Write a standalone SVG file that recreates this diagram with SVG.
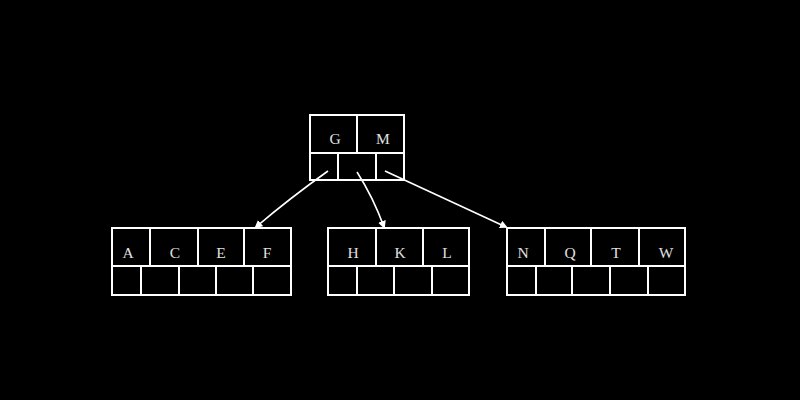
<svg xmlns="http://www.w3.org/2000/svg" width="800" height="400" viewBox="0 0 800 400">
<style>
.box{fill:none;stroke:#ffffff;stroke-width:2}
.ln{stroke:#ffffff;stroke-width:2}
.lbl{font-family:"Liberation Serif","DejaVu Serif",serif;font-size:15.5px;fill:#e0e0e0;text-anchor:middle}
.edge{fill:none;stroke:#ffffff;stroke-width:1.6;marker-end:url(#ah)}
</style>
<defs>
<marker id="ah" markerWidth="8" markerHeight="8" refX="6" refY="4" orient="auto" markerUnits="userSpaceOnUse">
<path d="M0,0 L8,4 L0,8 Z" fill="#ffffff"/>
</marker>
</defs>
<rect width="800" height="400" fill="#000000"/>
<g id="root">
<rect class="box" x="310" y="115" width="94" height="65"/>
<line class="ln" x1="310" y1="153" x2="404" y2="153"/>
<line class="ln" x1="357" y1="115" x2="357" y2="153"/>
<line class="ln" x1="338" y1="153" x2="338" y2="180"/>
<line class="ln" x1="376" y1="153" x2="376" y2="180"/>
<text class="lbl" x="335" y="144">G</text>
<text class="lbl" x="383" y="144">M</text>
</g>
<g id="left">
<rect class="box" x="112" y="228" width="179" height="67"/>
<line class="ln" x1="112" y1="266" x2="291" y2="266"/>
<line class="ln" x1="150" y1="228" x2="150" y2="266"/>
<line class="ln" x1="198" y1="228" x2="198" y2="266"/>
<line class="ln" x1="244" y1="228" x2="244" y2="266"/>
<line class="ln" x1="141" y1="266" x2="141" y2="295"/>
<line class="ln" x1="179" y1="266" x2="179" y2="295"/>
<line class="ln" x1="216" y1="266" x2="216" y2="295"/>
<line class="ln" x1="253" y1="266" x2="253" y2="295"/>
<text class="lbl" x="128" y="258">A</text>
<text class="lbl" x="175" y="258">C</text>
<text class="lbl" x="221" y="258">E</text>
<text class="lbl" x="267" y="258">F</text>
</g>
<g id="middle">
<rect class="box" x="328" y="228" width="141" height="67"/>
<line class="ln" x1="328" y1="266" x2="469" y2="266"/>
<line class="ln" x1="376" y1="228" x2="376" y2="266"/>
<line class="ln" x1="423" y1="228" x2="423" y2="266"/>
<line class="ln" x1="357" y1="266" x2="357" y2="295"/>
<line class="ln" x1="394" y1="266" x2="394" y2="295"/>
<line class="ln" x1="432" y1="266" x2="432" y2="295"/>
<text class="lbl" x="353" y="258">H</text>
<text class="lbl" x="400" y="258">K</text>
<text class="lbl" x="447" y="258">L</text>
</g>
<g id="right">
<rect class="box" x="507" y="228" width="178" height="67"/>
<line class="ln" x1="507" y1="266" x2="685" y2="266"/>
<line class="ln" x1="545" y1="228" x2="545" y2="266"/>
<line class="ln" x1="591" y1="228" x2="591" y2="266"/>
<line class="ln" x1="639" y1="228" x2="639" y2="266"/>
<line class="ln" x1="536" y1="266" x2="536" y2="295"/>
<line class="ln" x1="572" y1="266" x2="572" y2="295"/>
<line class="ln" x1="610" y1="266" x2="610" y2="295"/>
<line class="ln" x1="648" y1="266" x2="648" y2="295"/>
<text class="lbl" x="523" y="258">N</text>
<text class="lbl" x="570" y="258">Q</text>
<text class="lbl" x="616" y="258">T</text>
<text class="lbl" x="666" y="258">W</text>
</g>
<g id="connectors">
<path class="edge" d="M328,171 Q290,198 256,227"/>
<path class="edge" d="M357,172 Q373,197 384,227"/>
<path class="edge" d="M385,171 Q450,201 506,227"/>
</g>
</svg>
